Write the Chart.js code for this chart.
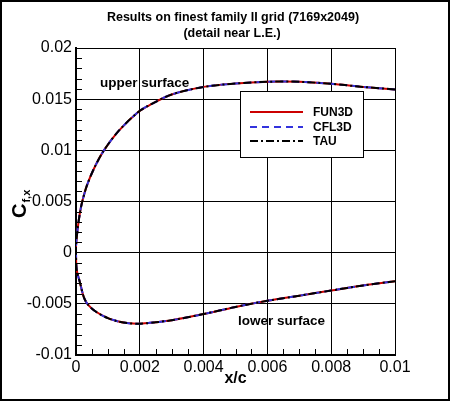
<!DOCTYPE html>
<html>
<head>
<meta charset="utf-8">
<script src="https://cdn.jsdelivr.net/npm/chart.js@4.4.1/dist/chart.umd.min.js"></script>
<style>
  html, body { margin: 0; padding: 0; background: #fff; }
  canvas { display: block; }
</style>
</head>
<body>
<canvas id="chart" width="450" height="401"></canvas>
<script>
// data (ketiga solver praktis berimpit)
const xUpper  = [0.01, 0.009, 0.008, 0.007, 0.006, 0.005, 0.004, 0.003, 0.00234, 0.00196, 0.00133, 0.00086, 0.00055, 0.000335, 0.0002, 0.000125, 0.00005, 0.0];
const cfUpper = [0.01595, 0.0162, 0.0165, 0.0167, 0.0167, 0.01653, 0.0162, 0.01546, 0.01448, 0.01377, 0.01187, 0.00992, 0.00813, 0.0065, 0.00504, 0.00393, 0.00228, 0.00065];

const xLower  = [0.0, 0.00002, 0.000125, 0.00025, 0.00038, 0.00064, 0.001, 0.0013, 0.0016, 0.002, 0.0025, 0.003, 0.004, 0.005, 0.006, 0.007, 0.008, 0.009, 0.01];
const cfLower = [0.0, -0.00163, -0.00293, -0.0044, -0.0051, -0.0058, -0.0064, -0.0067, -0.00688, -0.00695, -0.0068, -0.0066, -0.006, -0.0053, -0.0047, -0.0042, -0.0037, -0.0032, -0.0028];

const solverNames = ['FUN3D', 'CFL3D', 'TAU'];

const xTickValues = [0, 0.002, 0.004, 0.006, 0.008, 0.01];
const xTickLabels = ['0', '0.002', '0.004', '0.006', '0.008', '0.01'];
const yTickValues = [-0.01, -0.005, 0, 0.005, 0.01, 0.015, 0.02];
const yTickLabels = ['-0.01', '-0.005', '0', '0.005', '0.01', '0.015', '0.02'];

const titleLines = ['Results on finest family II grid (7169x2049)', '(detail near L.E.)'];

const FONT = '"Liberation Sans", Arial, Helvetica, sans-serif';

// gaya garis tiap solver
const solverStyles = [
  { color: '#cc0000', dash: [], order: 2 },
  { color: '#3333dd', dash: [7, 5], order: 1 },
  { color: '#000000', dash: [8, 3, 2, 3], order: 0 }
];

// satu lintasan: upper dari TE ke L.E., lalu lower ke TE
function buildPath() {
  const pts = [];
  for (let i = 0; i < xUpper.length; i++) pts.push({ x: xUpper[i], y: cfUpper[i] });
  for (let i = 0; i < xLower.length; i++) pts.push({ x: xLower[i], y: cfLower[i] });
  return pts;
}

const datasets = solverNames.map((name, i) => ({
  label: name,
  data: buildPath(),
  borderColor: solverStyles[i].color,
  borderDash: solverStyles[i].dash,
  borderWidth: 2,
  order: solverStyles[i].order,
  showLine: true,
  pointRadius: 0,
  tension: 0.3,
  fill: false
}));

const decorPlugin = {
  id: 'decor',
  beforeDraw(chart) {
    const ctx = chart.ctx;
    ctx.save();
    ctx.fillStyle = '#fff';
    ctx.fillRect(0, 0, chart.width, chart.height);
    ctx.restore();
  },
  afterDatasetsDraw(chart) {
    const ctx = chart.ctx;
    const xs = chart.scales.x, ys = chart.scales.y;
    const { left, bottom } = chart.chartArea;
    ctx.save();

    // minor ticks (ke dalam)
    ctx.strokeStyle = '#000';
    ctx.lineWidth = 1;
    ctx.setLineDash([]);
    ctx.beginPath();
    for (let k = 1; k < 30; k++) {
      if (k % 5 === 0) continue;
      const py = Math.round(ys.getPixelForValue(-0.01 + k * 0.001)) + 0.5;
      ctx.moveTo(left, py);
      ctx.lineTo(left + 6, py);
    }
    for (let k = 1; k < 20; k++) {
      if (k % 4 === 0) continue;
      const px = Math.round(xs.getPixelForValue(k * 0.0005)) + 0.5;
      ctx.moveTo(px, bottom);
      ctx.lineTo(px, bottom - 6);
    }
    ctx.stroke();

    // label permukaan
    ctx.fillStyle = '#000';
    ctx.font = 'bold 13.5px ' + FONT;
    ctx.textBaseline = 'middle';
    ctx.textAlign = 'left';
    ctx.fillText('upper surface', 100, 83);
    ctx.fillText('lower surface', 238, 321);

    // legenda
    const lx = 240, ly = 91, lw = 123, lh = 66;
    ctx.fillStyle = '#fff';
    ctx.fillRect(lx, ly, lw, lh);
    ctx.strokeStyle = '#000';
    ctx.lineWidth = 1;
    ctx.strokeRect(lx + 0.5, ly + 0.5, lw, lh);
    const rows = [112, 127, 141];
    ctx.font = 'bold 12px ' + FONT;
    solverNames.forEach((name, i) => {
      ctx.strokeStyle = solverStyles[i].color;
      ctx.lineWidth = 2;
      ctx.setLineDash(solverStyles[i].dash);
      ctx.beginPath();
      ctx.moveTo(250, rows[i]);
      ctx.lineTo(303, rows[i]);
      ctx.stroke();
      ctx.fillStyle = '#000';
      ctx.fillText(name, 313, rows[i] + 0.5);
    });
    ctx.setLineDash([]);
    ctx.restore();
  },
  afterDraw(chart) {
    const ctx = chart.ctx;
    ctx.save();
    ctx.fillStyle = '#000';

    // judul
    ctx.font = 'bold 12.5px ' + FONT;
    ctx.textAlign = 'center';
    ctx.textBaseline = 'middle';
    ctx.fillText(titleLines[0], 233, 18);
    ctx.fillText(titleLines[1], 232, 34);

    // judul sumbu x
    ctx.font = 'bold 16px ' + FONT;
    ctx.fillText('x/c', 235.5, 379);

    // judul sumbu y: C_f,x diputar
    ctx.save();
    ctx.translate(26, 218);
    ctx.rotate(-Math.PI / 2);
    ctx.textAlign = 'left';
    ctx.textBaseline = 'alphabetic';
    ctx.font = 'bold 20px ' + FONT;
    ctx.fillText('C', 0, 0);
    const cw = ctx.measureText('C').width;
    ctx.font = 'bold 11px ' + FONT;
    ctx.fillText('f,x', cw + 1, 4);
    ctx.restore();

    // bingkai luar
    ctx.strokeStyle = '#000';
    ctx.lineWidth = 2;
    ctx.strokeRect(1, 1, chart.width - 2, chart.height - 2);
    ctx.restore();
  }
};

new Chart(document.getElementById('chart').getContext('2d'), {
  type: 'scatter',
  data: { datasets: datasets },
  options: {
    responsive: false,
    animation: false,
    layout: { padding: { left: 0, top: 48, right: 55, bottom: 0 } },
    plugins: {
      legend: { display: false },
      tooltip: { enabled: false },
      title: { display: false }
    },
    scales: {
      x: {
        type: 'linear',
        min: 0,
        max: 0.01,
        afterBuildTicks: (scale) => { scale.ticks = xTickValues.map(v => ({ value: v })); },
        afterFit: (scale) => { scale.height = 46; },
        ticks: {
          callback: (v, i) => xTickLabels[i],
          color: '#000',
          font: { family: FONT, size: 16 },
          padding: 3,
          maxRotation: 0,
          autoSkip: false
        },
        grid: { color: '#000', lineWidth: 1, drawTicks: false },
        border: { display: true, color: '#000', width: 2 },
        title: { display: false }
      },
      y: {
        type: 'linear',
        min: -0.01,
        max: 0.02,
        afterBuildTicks: (scale) => { scale.ticks = yTickValues.map(v => ({ value: v })); },
        afterFit: (scale) => { scale.width = 76; },
        ticks: {
          callback: (v, i) => yTickLabels[i],
          color: '#000',
          font: { family: FONT, size: 16 },
          padding: 4,
          autoSkip: false
        },
        grid: { color: '#000', lineWidth: 1, drawTicks: false },
        border: { display: true, color: '#000', width: 2 },
        title: { display: false }
      }
    }
  },
  plugins: [decorPlugin]
});
</script>
</body>
</html>
